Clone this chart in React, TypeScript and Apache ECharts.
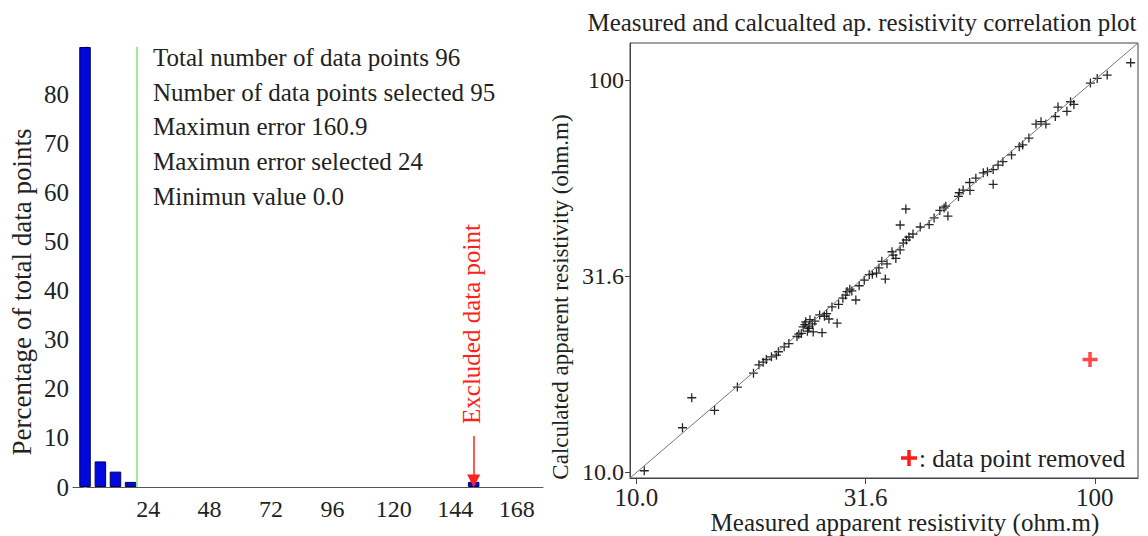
import React, { useEffect, useRef } from "react";
import * as echarts from "echarts";

// ---------- Left: error histogram ----------
const histBinCenters = [-0.7, 5.3, 11.2, 17.1, 151.2];
const histPercent = [89.58, 5.21, 3.13, 1.04, 1.04];
const histXMin = -5.4;
const histXMax = 178.3;
const histXTicks = [24, 48, 72, 96, 120, 144, 168];
const histYTicks = [0, 10, 20, 30, 40, 50, 60, 70, 80];
const selectedErrorLimit = 19.6;
const excludedBin = 151.2;
const statsLines = [
  "Total number of data points 96",
  "Number of data points selected 95",
  "Maximun error 160.9",
  "Maximun error selected 24",
  "Minimun value 0.0",
];

// ---------- Right: correlation plot (ohm.m) ----------
const measured = [
  10.4, 12.6, 13.2, 14.8, 16.6, 18.0, 18.5, 18.9, 19.7, 20.2, 20.4, 21.5, 22.4, 22.9, 23.1,
  23.4, 23.7, 23.9, 24.2, 24.3, 23.6, 23.3, 25.4, 25.1, 26.0, 26.3, 27.4, 26.7, 27.6, 28.6,
  28.8, 29.2, 30.6, 30.1, 32.2, 32.7, 33.4, 34.9, 34.3, 35.2, 36.1, 36.8, 37.6, 37.6, 38.7,
  38.8, 39.3, 41.6, 43.5, 45.9, 47.3, 47.8, 50.4, 50.6, 53.3, 53.4, 57.1, 58.3, 60.0, 60.0,
  63.0, 65.8, 68.4, 69.6, 74.4, 76.3, 82.0, 83.1, 86.9, 88.5, 90.0, 97.8, 101.2, 106.4, 119.7,
  19.2, 21.0, 22.6, 23.8, 24.5, 25.7, 28.2, 29.5, 31.4, 33.8, 36.3, 38.2, 40.1, 44.6, 46.9,
  51.6, 55.0, 61.5, 71.8, 78.2,
];
const calculated = [
  10.1, 13.0, 15.5, 14.4, 16.5, 17.9, 18.8, 19.1, 19.7, 19.9, 20.3, 21.3, 22.2, 22.6, 23.5,
  24.2, 23.3, 24.5, 23.9, 22.8, 22.9, 23.8, 22.7, 25.2, 25.4, 24.6, 24.0, 26.4, 26.8, 28.3,
  28.9, 29.3, 29.9, 27.5, 31.9, 32.0, 32.2, 31.1, 34.5, 34.0, 36.5, 35.1, 36.9, 42.7, 46.9,
  39.1, 39.8, 42.2, 42.8, 46.5, 47.7, 45.0, 50.5, 51.6, 54.8, 52.3, 58.0, 58.4, 54.2, 59.1,
  61.9, 64.4, 67.6, 68.3, 77.2, 78.3, 80.7, 85.3, 83.2, 88.0, 86.6, 98.2, 100.9, 102.9, 110.6,
  19.4, 20.9, 22.5, 23.6, 24.3, 25.0, 27.8, 29.0, 30.9, 33.2, 35.8, 38.4, 40.5, 44.5, 47.2,
  52.4, 56.2, 60.7, 71.1, 77.2,
];
const removedMeasured = [97.6];
const removedCalculated = [19.4];
const resAxisMin = 9.68;
const resAxisMax = 124.2;
const resTicks = [10, 31.6, 100];

const FONT = "Liberation Serif, Times New Roman, serif";
const lg = (v: number) => Math.log10(v);
const fmtRes = (v: number) => {
  const n = Math.pow(10, v);
  return n >= 99.5 ? n.toFixed(0) : n.toFixed(1);
};
const CROSS = "path://M0,5H10M5,0V10";
const serifRich = (size: number) => ({
  t: { fontFamily: FONT, fontSize: size, color: "#222" },
});

export default function App() {
  const ref = useRef<HTMLDivElement>(null);
  useEffect(() => {
    document.body.style.margin = "0";
    if (!ref.current) return;
    const chart = echarts.init(ref.current, undefined, { renderer: "svg" });
    const rMin = lg(resAxisMin);
    const rMax = lg(resAxisMax);
    const option: any = {
      animation: false,
      backgroundColor: "#ffffff",
      textStyle: { fontFamily: FONT },
      grid: [
        { left: 73, top: 47, width: 470, height: 440 },
        {
          left: 630, top: 43, width: 508, height: 435,
          show: true, borderColor: "#444", borderWidth: 1, backgroundColor: "transparent",
        },
      ],
      xAxis: [
        {
          type: "value", gridIndex: 0, min: histXMin, max: histXMax,
          axisLine: { show: true, lineStyle: { color: "#555", width: 1 } },
          axisTick: { show: false },
          splitLine: { show: false },
          axisLabel: {
            customValues: histXTicks, fontSize: 24, color: "#222", fontFamily: FONT, margin: 10,
            formatter: (v: number) => `{t|${v}}`, rich: serifRich(24),
          },
        },
        {
          type: "value", gridIndex: 1, min: rMin, max: rMax,
          axisLine: { show: true, lineStyle: { color: "#444" } },
          axisTick: { show: true, length: 6, customValues: resTicks.map(lg), lineStyle: { color: "#444" } },
          splitLine: { show: false },
          axisLabel: {
            customValues: resTicks.map(lg), fontSize: 25, color: "#222", fontFamily: FONT, margin: 7,
            formatter: (v: number) => `{t|${fmtRes(v)}}`, rich: serifRich(25),
          },
        },
      ],
      yAxis: [
        {
          type: "value", gridIndex: 0, min: 0, max: histPercent[0],
          axisLine: { show: true, lineStyle: { color: "#999", width: 1.5 } },
          axisTick: { show: true, length: 3, customValues: histYTicks, lineStyle: { color: "#999" } },
          splitLine: { show: false },
          axisLabel: {
            customValues: histYTicks, fontSize: 25, color: "#222", fontFamily: FONT, margin: 4,
            formatter: (v: number) => `{t|${v}}`, rich: serifRich(25),
          },
        },
        {
          type: "value", gridIndex: 1, min: rMin, max: rMax,
          axisLine: { show: true, lineStyle: { color: "#444" } },
          axisTick: { show: true, length: 5, customValues: resTicks.map(lg), lineStyle: { color: "#444" } },
          splitLine: { show: false },
          axisLabel: {
            customValues: resTicks.map(lg), fontSize: 24, color: "#222", fontFamily: FONT, margin: 6,
            formatter: (v: number) => `{t|${fmtRes(v)}}`, rich: serifRich(24),
          },
        },
      ],
      series: [
        {
          type: "bar", xAxisIndex: 0, yAxisIndex: 0,
          data: histBinCenters.map((x, i) => [x, histPercent[i]]),
          barWidth: 11.5,
          itemStyle: { color: "#0008e0", borderColor: "#00005a", borderWidth: 1 },
          markLine: {
            silent: true,
            animation: false,
            symbol: ["none", "none"],
            label: { show: false },
            data: [
              {
                xAxis: selectedErrorLimit,
                lineStyle: { color: "#7fe37f", width: 1.5, type: "solid" },
              },
              [
                { coord: [excludedBin, 10.4], symbol: "none", lineStyle: { color: "#ff2020", width: 1.5, type: "solid" } },
                { coord: [excludedBin, 1.2], symbol: "triangle", symbolSize: [13, 13], symbolRotate: 180 },
              ],
            ],
          },
        },
        {
          type: "line", xAxisIndex: 1, yAxisIndex: 1,
          data: [[rMin, rMin], [rMax, rMax]],
          symbol: "none", silent: true,
          lineStyle: { color: "#777", width: 1 },
        },
        {
          type: "scatter", xAxisIndex: 1, yAxisIndex: 1,
          data: measured.map((m, i) => [lg(m), lg(calculated[i])]),
          symbol: CROSS, symbolSize: 9,
          itemStyle: { color: "none", borderColor: "#111", borderWidth: 1.3, opacity: 0.9 },
        },
        {
          type: "scatter", xAxisIndex: 1, yAxisIndex: 1,
          data: removedMeasured.map((m, i) => [lg(m), lg(removedCalculated[i])]),
          symbol: CROSS, symbolSize: 15,
          itemStyle: { color: "none", borderColor: "#ff1a1a", borderWidth: 3.5 },
        },
      ],
      graphic: [
        {
          type: "text", left: 153, top: 40,
          style: { text: statsLines.join("\n"), font: `25px ${FONT}`, lineHeight: 34.7, fill: "#222" },
        },
        {
          type: "text", x: 22, y: 292, rotation: Math.PI / 2,
          style: {
            text: "Percentage of total data points", font: `27px ${FONT}`, fill: "#222",
            align: "center", verticalAlign: "middle",
          },
        },
        {
          type: "text", x: 471, y: 324, rotation: Math.PI / 2,
          style: {
            text: "Excluded data point", font: `25px ${FONT}`, fill: "#ff2020",
            align: "center", verticalAlign: "middle",
          },
        },
        {
          type: "text", x: 862, y: 22,
          style: {
            text: "Measured and calcualted ap. resistivity correlation plot", font: `25px ${FONT}`,
            fill: "#222", align: "center", verticalAlign: "middle",
          },
        },
        {
          type: "text", x: 560, y: 297, rotation: Math.PI / 2,
          style: {
            text: "Calculated apparent resistivity (ohm.m)", font: `23px ${FONT}`,
            fill: "#222", align: "center", verticalAlign: "middle",
          },
        },
        {
          type: "text", x: 905, y: 522,
          style: {
            text: "Measured apparent resistivity (ohm.m)", font: `25px ${FONT}`,
            fill: "#222", align: "center", verticalAlign: "middle",
          },
        },
        {
          type: "line", shape: { x1: 901, y1: 458, x2: 917, y2: 458 },
          style: { stroke: "#ff1a1a", lineWidth: 3.5 },
        },
        {
          type: "line", shape: { x1: 909, y1: 450, x2: 909, y2: 466 },
          style: { stroke: "#ff1a1a", lineWidth: 3.5 },
        },
        {
          type: "text", x: 919, y: 458,
          style: {
            text: ": data point removed", font: `25px ${FONT}`, fill: "#222",
            align: "left", verticalAlign: "middle",
          },
        },
      ],
    };
    chart.setOption(option);
    return () => chart.dispose();
  }, []);
  return <div ref={ref} style={{ width: 1148, height: 536 }} />;
}
